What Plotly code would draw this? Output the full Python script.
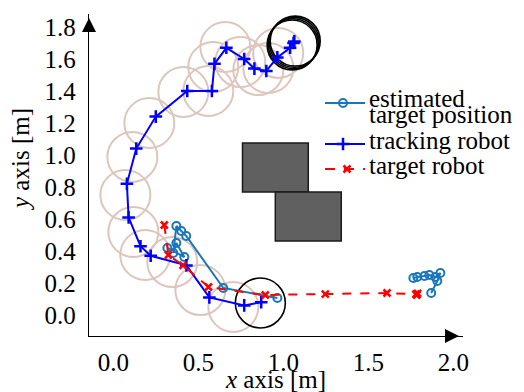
import plotly.graph_objects as go

# ---- data (metres) ----
track_x = [0.87, 0.77, 0.565, 0.43, 0.22, 0.16, 0.09, 0.08, 0.135, 0.25, 0.435, 0.58,
           0.595, 0.665, 0.77, 0.83, 0.90, 0.965, 1.04, 1.06, 1.065]
track_y = [0.08, 0.06, 0.11, 0.31, 0.37, 0.43, 0.61, 0.82, 1.04, 1.24, 1.40, 1.40,
           1.57, 1.67, 1.60, 1.54, 1.525, 1.61, 1.67, 1.70, 1.71]

target_x = [0.30, 0.324, 0.41, 0.56, 0.894, 1.247, 1.61, 1.78, 1.785, 1.79]
target_y = [0.5625, 0.375, 0.31, 0.175, 0.125, 0.131, 0.1375, 0.13, 0.125, 0.135]

est_x = [0.318, 0.418, 0.371, 0.353, 0.371, 0.40, 0.429, 0.647, 0.965, None,
         1.765, 1.788, 1.83, 1.859, 1.894, 1.924, 1.906, 1.87]
est_y = [0.419, 0.3625, 0.45, 0.3875, 0.556, 0.525, 0.494, 0.169, 0.106, None,
         0.231, 0.2375, 0.244, 0.25, 0.2375, 0.2625, 0.2125, 0.1375]

# sensing range circles (centres)
range_cx = [0.706, 0.512, 0.347, 0.188, 0.118, 0.071, 0.112, 0.212, 0.412, 0.559,
            0.588, 0.659, 0.747, 0.853, 0.912, 0.97]
range_cy = [0.05, 0.156, 0.331, 0.375, 0.519, 0.75, 0.988, 1.2, 1.394, 1.4,
            1.55, 1.675, 1.581, 1.531, 1.544, 1.638]
range_rx = 0.147
range_ry = 0.156

# black circles (start / goal)
black_cx = [0.865, 1.052, 1.058, 1.064, 1.070]
black_cy = [0.075, 1.688, 1.696, 1.704, 1.712]

# obstacles
obst_x0 = [0.76, 0.953]
obst_x1 = [1.147, 1.341]
obst_y0 = [0.769, 0.4625]
obst_y1 = [1.075, 0.769]

x_ticks = [0.0, 0.5, 1.0, 1.5, 2.0]
y_ticks = [0.0, 0.2, 0.4, 0.6, 0.8, 1.0, 1.2, 1.4, 1.6, 1.8]

legend_names = ["estimated", "target position", "tracking robot", "target robot"]

FONT = "Liberation Serif"
FS = 25
EST_C = "#1a76bb"
TRK_C = "#0000ff"
TGT_C = "#ff0000"

est_line = dict(color=EST_C, width=2)
est_mark = dict(symbol="circle-open", size=8, color=EST_C, line=dict(width=2))
trk_line = dict(color=TRK_C, width=2)
trk_mark = dict(symbol="cross-thin", size=9, color=TRK_C, line=dict(width=2.5, color=TRK_C))
tgt_line = dict(color=TGT_C, width=2, dash="dash")
tgt_mark = dict(symbol="x-thin", size=7, color=TGT_C, line=dict(width=2.5, color=TGT_C))

# layout geometry (pixels)
ML, MR, MT, MB = 89, 61, 14, 56
W, H = 524, 392
PW, PH = W - ML - MR, H - MT - MB

fig = go.Figure()

fig.add_trace(go.Scatter(x=est_x, y=est_y, mode="lines+markers", name="estimated target position",
                         line=est_line, marker=est_mark, connectgaps=False, showlegend=False))
fig.add_trace(go.Scatter(x=track_x, y=track_y, mode="lines+markers", name="tracking robot",
                         line=trk_line, marker=trk_mark, showlegend=False))
fig.add_trace(go.Scatter(x=target_x, y=target_y, mode="lines+markers", name="target robot",
                         line=tgt_line, marker=tgt_mark, showlegend=False))

# ---- legend drawn on an overlay axis measured in plot pixels (origin = plot bottom-left) ----
LX0, LX1, LXM = 236, 276, 254
rows_y = [233, 192, 167]
fig.add_trace(go.Scatter(x=[LX0, LX1], y=[rows_y[0]] * 2, xaxis="x2", yaxis="y2", mode="lines",
                         line=est_line, showlegend=False, hoverinfo="skip"))
fig.add_trace(go.Scatter(x=[LXM], y=[rows_y[0]], xaxis="x2", yaxis="y2", mode="markers",
                         marker=est_mark, showlegend=False, hoverinfo="skip"))
fig.add_trace(go.Scatter(x=[LX0, LX1], y=[rows_y[1]] * 2, xaxis="x2", yaxis="y2", mode="lines",
                         line=trk_line, showlegend=False, hoverinfo="skip"))
fig.add_trace(go.Scatter(x=[LXM], y=[rows_y[1]], xaxis="x2", yaxis="y2", mode="markers",
                         marker=trk_mark, showlegend=False, hoverinfo="skip"))
fig.add_trace(go.Scatter(x=[LX0, LX1], y=[rows_y[2]] * 2, xaxis="x2", yaxis="y2", mode="lines",
                         line=dict(color=TGT_C, width=2, dash="10px,9px"), showlegend=False,
                         hoverinfo="skip"))
fig.add_trace(go.Scatter(x=[LXM + 4], y=[rows_y[2]], xaxis="x2", yaxis="y2", mode="markers",
                         marker=tgt_mark, showlegend=False, hoverinfo="skip"))

# axis arrowheads (overlay axis, pixel units)
fig.add_trace(go.Scatter(x=[0], y=[PH - 4], xaxis="x2", yaxis="y2", mode="markers",
                         marker=dict(symbol="arrow-up", size=14, color="black"),
                         cliponaxis=False, showlegend=False, hoverinfo="skip"))
fig.add_trace(go.Scatter(x=[PW - 4], y=[0], xaxis="x2", yaxis="y2", mode="markers",
                         marker=dict(symbol="arrow-right", size=14, color="black"),
                         cliponaxis=False, showlegend=False, hoverinfo="skip"))

text_y = [237.5, 221.5, 195.5, 170.5]
annotations = []
for name, ty in zip(legend_names, text_y):
    annotations.append(dict(x=LX1 + 2, y=ty, xref="x2", yref="y2", text=name, showarrow=False,
                            xanchor="left", yanchor="middle",
                            font=dict(family=FONT, size=FS, color="black")))

# axis titles
annotations += [
    dict(x=(275 - ML) / PW, y=-(379 - (H - MB)) / PH, xref="paper", yref="paper",
         text="<i>x</i> axis [m]", showarrow=False, xanchor="center", yanchor="middle",
         font=dict(family=FONT, size=FS, color="black")),
    dict(x=(20 - ML) / PW, y=((H - MB) - 160) / PH, xref="paper", yref="paper",
         text="<i>y</i> axis [m]", showarrow=False, xanchor="center", yanchor="middle",
         textangle=-90, font=dict(family=FONT, size=FS, color="black")),
]

shapes = []
for cx, cy in zip(range_cx, range_cy):
    shapes.append(dict(type="circle", xref="x", yref="y", layer="below",
                       x0=cx - range_rx, x1=cx + range_rx, y0=cy - range_ry, y1=cy + range_ry,
                       line=dict(color="#dcc6bd", width=2)))
for cx, cy in zip(black_cx, black_cy):
    shapes.append(dict(type="circle", xref="x", yref="y", layer="below",
                       x0=cx - range_rx, x1=cx + range_rx, y0=cy - range_ry, y1=cy + range_ry,
                       line=dict(color="black", width=1.6)))
for a, b, c, d in zip(obst_x0, obst_x1, obst_y0, obst_y1):
    shapes.append(dict(type="rect", xref="x", yref="y", layer="below",
                       x0=a, x1=b, y0=c, y1=d, fillcolor="#606060",
                       line=dict(color="#1a1a1a", width=1.5)))

# data ranges so that 0.0 sits at x=113 px / y=315 px
x_left = (ML - 113.3) / 170.0
x_right = x_left + PW / 170.0
y_bottom = (315 - (H - MB)) / 160.0
y_top = y_bottom + PH / 160.0

fig.update_layout(
    width=W, height=H,
    margin=dict(l=ML, r=MR, t=MT, b=MB),
    paper_bgcolor="white", plot_bgcolor="white",
    font=dict(family=FONT, size=FS, color="black"),
    shapes=shapes, annotations=annotations, showlegend=False,
    xaxis=dict(range=[x_left, x_right], tickmode="array", tickvals=x_ticks,
               ticktext=[f"{v:.1f}" for v in x_ticks], showgrid=False, zeroline=False,
               showline=True, linecolor="black", linewidth=1.4,
               ticks="outside", ticklen=4, tickcolor="rgba(0,0,0,0)", automargin=False,
               tickfont=dict(family=FONT, size=FS, color="black")),
    yaxis=dict(range=[y_bottom, y_top], tickmode="array", tickvals=y_ticks,
               ticktext=[f"{v:.1f}" for v in y_ticks], showgrid=False, zeroline=False,
               showline=True, linecolor="black", linewidth=1.4,
               ticks="outside", ticklen=7, tickcolor="rgba(0,0,0,0)", automargin=False,
               tickfont=dict(family=FONT, size=FS, color="black")),
    xaxis2=dict(range=[0, PW], overlaying="x", visible=False, fixedrange=True),
    yaxis2=dict(range=[0, PH], overlaying="y", visible=False, fixedrange=True),
)

fig.write_html(
    "out.html", config={"displayModeBar": False},
    post_script=("document.body.style.margin='0';"
                 "document.querySelectorAll('svg text').forEach(function(t){"
                 "t.style.fontFamily='\"Liberation Serif\", \"Times New Roman\", serif';});"))
